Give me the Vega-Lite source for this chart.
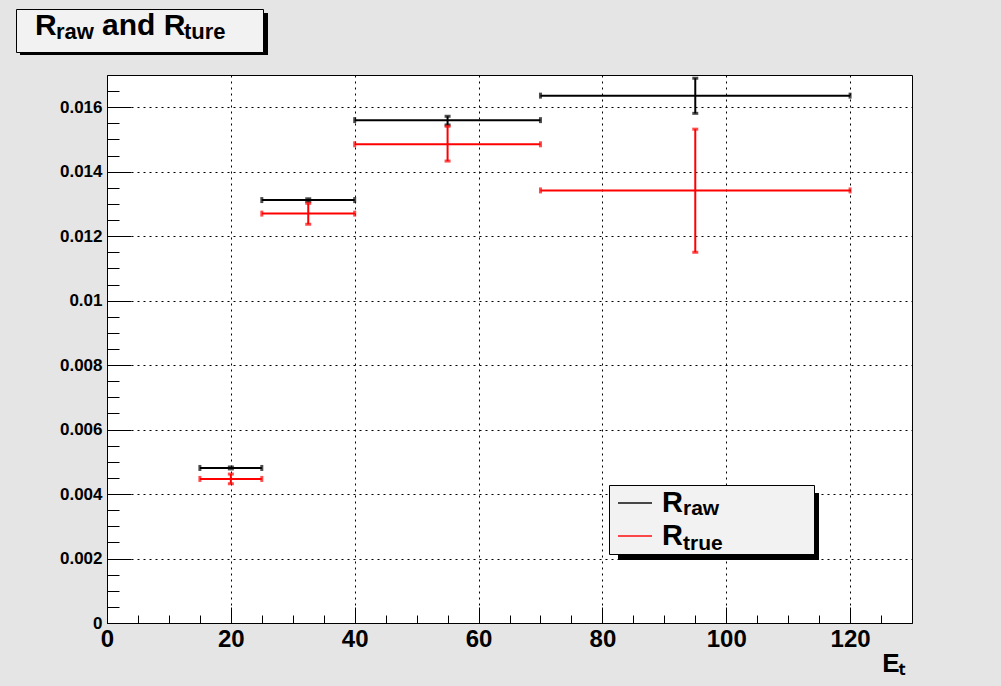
{
  "$schema": "https://vega.github.io/schema/vega-lite/v6.json",
  "width": 805,
  "height": 548,
  "autosize": {"type": "none"},
  "padding": {"left": 107, "top": 75, "right": 89, "bottom": 63},
  "background": "#e5e5e5",
  "config": {
    "view": {"fill": "white", "stroke": "black", "strokeWidth": 1},
    "font": "Liberation Sans",
    "axis": {"labelFont": "Liberation Sans", "titleFont": "Liberation Sans", "labelColor": "black", "titleColor": "black", "tickColor": "black"},
    "legend": {"labelFont": "Liberation Sans", "labelColor": "black", "labelFontWeight": "bold", "labelLimit": 600, "title": null, "padding": 0, "rowPadding": 0, "orient": "none"}
  },
  "data": {
    "values": [
      {"series": "true", "x": 20, "xlo": 15, "xhi": 25, "y": 0.00447, "ylo": 0.00432, "yhi": 0.00462},
      {"series": "true", "x": 32.5, "xlo": 25, "xhi": 40, "y": 0.01270, "ylo": 0.01237, "yhi": 0.01302},
      {"series": "true", "x": 55, "xlo": 40, "xhi": 70, "y": 0.01485, "ylo": 0.01433, "yhi": 0.01541},
      {"series": "true", "x": 95, "xlo": 70, "xhi": 120, "y": 0.01342, "ylo": 0.01150, "yhi": 0.01532},
      {"series": "raw", "x": 20, "xlo": 15, "xhi": 25, "y": 0.00481, "ylo": 0.00478, "yhi": 0.00484},
      {"series": "raw", "x": 32.5, "xlo": 25, "xhi": 40, "y": 0.01312, "ylo": 0.01308, "yhi": 0.01316},
      {"series": "raw", "x": 55, "xlo": 40, "xhi": 70, "y": 0.01560, "ylo": 0.01545, "yhi": 0.01572},
      {"series": "raw", "x": 95, "xlo": 70, "xhi": 120, "y": 0.01636, "ylo": 0.01581, "yhi": 0.01690}
    ]
  },
  "resolve": {"axis": {"x": "independent", "y": "independent"}},
  "layer": [
    {
      "mark": {"type": "point", "opacity": 0},
      "encoding": {
        "x": {"field": "x", "type": "quantitative", "scale": {"domain": [0, 130], "nice": false, "zero": false},
          "axis": {"orient": "bottom", "values": [5, 10, 15, 25, 30, 35, 45, 50, 55, 65, 70, 75, 85, 90, 95, 105, 110, 115, 125], "labels": false, "domain": false, "grid": false,
            "ticks": true, "tickSize": -8, "tickWidth": 1, "title": null}},
        "y": {"field": "y", "type": "quantitative", "scale": {"domain": [0, 0.017], "nice": false, "zero": false},
          "axis": {"orient": "left", "values": [0.0005, 0.001, 0.0015, 0.0025, 0.003, 0.0035, 0.0045, 0.005, 0.0055, 0.0065, 0.007, 0.0075, 0.0085, 0.009, 0.0095, 0.0105, 0.011, 0.0115, 0.0125, 0.013, 0.0135, 0.0145, 0.015, 0.0155, 0.0165], "labels": false, "domain": false, "grid": false,
            "ticks": true, "tickSize": -12, "tickWidth": 1, "title": null}},
        "size": {"datum": "titleshadow", "type": "ordinal", "scale": {"range": [1681, 1681]},
          "legend": {"legendX": -87, "legendY": -62, "symbolOpacity": 0,
            "labelFontSize": 10, "labelOffset": 205, "labelExpr": "''", "fillColor": "black"}},
        "shape": {"datum": "legendshadow", "type": "nominal",
          "legend": {"legendX": 511, "legendY": 418, "symbolSize": 4356, "symbolOpacity": 0,
            "labelFontSize": 10, "labelOffset": 133, "labelExpr": "''", "fillColor": "black"}},
        "fill": {"datum": "titlebox", "type": "nominal",
          "legend": {"legendX": -91, "legendY": -66, "symbolSize": 1764, "symbolOpacity": 0,
            "labelFontSize": 10, "labelOffset": 203, "labelExpr": "''", "fillColor": "#f2f2f2", "strokeColor": "black"}},
        "stroke": {"datum": "legendbox", "type": "nominal",
          "legend": {"legendX": 502, "legendY": 410, "symbolSize": 4624, "symbolOpacity": 0,
            "labelFontSize": 10, "labelOffset": 135, "labelExpr": "''", "fillColor": "#f2f2f2", "strokeColor": "black"}},
        "strokeDash": {"field": "series", "type": "nominal",
          "scale": {"domain": ["true", "raw"]},
          "legend": {"values": ["raw", "true"], "direction": "horizontal", "columnPadding": 9,
            "legendX": -108, "legendY": -61, "symbolSize": 1600, "symbolOpacity": 0,
            "labelFontSize": 30, "labelOffset": -6, "labelBaseline": "alphabetic",
            "labelExpr": "datum.label == 'raw' ? 'R' : 'and R'"}},
        "strokeWidth": {"field": "series", "type": "ordinal",
          "scale": {"domain": ["true", "raw", "none"], "range": [1, 1]},
          "legend": {"values": ["raw", "true"], "direction": "horizontal", "columnPadding": 33,
            "legendX": -108, "legendY": -57, "symbolSize": 1600, "symbolOpacity": 0,
            "labelFontSize": 22, "labelOffset": 16, "labelBaseline": "alphabetic",
            "labelExpr": "datum.label == 'raw' ? 'raw' : 'ture'"}}
      }
    },
    {
      "mark": {"type": "errorbar", "thickness": 2, "ticks": {"size": 6, "thickness": 3}},
      "encoding": {
        "x": {"field": "xlo", "type": "quantitative", "scale": {"domain": [0, 130], "nice": false, "zero": false},
          "axis": {"orient": "bottom", "values": [0, 20, 40, 60, 80, 100, 120], "ticks": false, "tickSize": 0, "domain": false,
            "grid": true, "gridColor": "black", "gridDash": [2, 4], "gridWidth": 1, "gridOpacity": 1,
            "labelFontSize": 24, "labelFontWeight": "bold", "labelPadding": 4, "labelFlush": false, "labelOverlap": false,
            "title": "Eₜ", "titleFontSize": 26, "titleFontWeight": "bold", "titleX": 798, "titleY": 48, "titleAlign": "right", "titleBaseline": "alphabetic"}},
        "x2": {"field": "xhi"},
        "y": {"field": "y", "type": "quantitative", "scale": {"domain": [0, 0.017], "nice": false, "zero": false},
          "axis": {"orient": "left", "values": [0, 0.002, 0.004, 0.006, 0.008, 0.01, 0.012, 0.014, 0.016], "ticks": false, "tickSize": 0, "domain": false,
            "grid": true, "gridColor": "black", "gridDash": [2, 4], "gridWidth": 1, "gridOpacity": 1,
            "labelFontSize": 17, "labelFontWeight": "bold", "labelPadding": 5, "labelFlush": false, "labelOverlap": false,
            "format": "~g", "title": null}},
        "color": {"field": "series", "type": "nominal",
          "scale": {"domain": ["raw", "true"], "range": ["#000000", "#ff0000"]},
          "legend": {"legendX": 510, "legendY": 410,
            "symbolType": "stroke", "symbolSize": 1156, "symbolStrokeWidth": 2,
            "labelFontSize": 29, "labelOffset": 9, "labelExpr": "'R'"}}
      }
    },
    {
      "mark": {"type": "errorbar", "thickness": 2, "ticks": {"size": 6, "thickness": 3}},
      "encoding": {
        "x": {"field": "x", "type": "quantitative", "scale": {"domain": [0, 130], "nice": false, "zero": false},
          "axis": {"orient": "bottom", "values": [0, 20, 40, 60, 80, 100, 120], "labels": false, "domain": false, "grid": false,
            "ticks": true, "tickSize": -16, "tickWidth": 1, "title": null}},
        "y": {"field": "ylo", "type": "quantitative", "scale": {"domain": [0, 0.017], "nice": false, "zero": false},
          "axis": {"orient": "left", "values": [0, 0.002, 0.004, 0.006, 0.008, 0.01, 0.012, 0.014, 0.016], "labels": false, "domain": false, "grid": false,
            "ticks": true, "tickSize": -24, "tickWidth": 1, "title": null}},
        "y2": {"field": "yhi"},
        "color": {"field": "series", "type": "nominal"}
      }
    },
    {
      "mark": {"type": "point"},
      "encoding": {
        "x": {"field": "x", "type": "quantitative", "axis": null},
        "y": {"field": "y", "type": "quantitative", "axis": null},
        "opacity": {"field": "series", "type": "ordinal",
          "scale": {"domain": ["raw", "true", "none"], "range": [0, 0]},
          "legend": {"values": ["raw", "true"], "legendX": 510, "legendY": 422,
            "symbolSize": 1156, "symbolOpacity": 0,
            "labelFontSize": 21, "labelOffset": 30, "labelBaseline": "alphabetic"}}
      }
    }
  ]
}
